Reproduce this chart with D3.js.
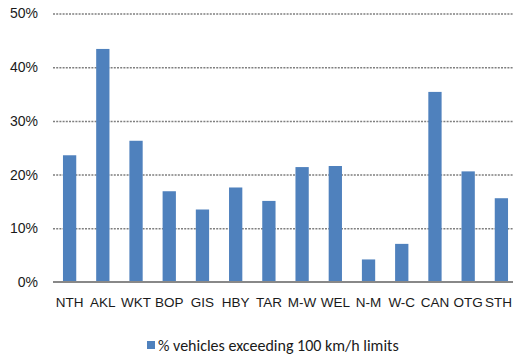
<!DOCTYPE html>
<html>
<head>
<meta charset="utf-8">
<script src="https://cdn.jsdelivr.net/npm/d3@7"></script>
<style>
  html, body { margin: 0; padding: 0; background: #fff; }
  svg { display: block; font-family: Carlito, Calibri, Lato, "Open Sans", sans-serif; }
</style>
</head>
<body>
<div id="chart"></div>
<script>
// Regions and share of vehicles over the 100 km/h limit
const regions = ["NTH", "AKL", "WKT", "BOP", "GIS", "HBY", "TAR", "M-W", "WEL", "N-M", "W-C", "CAN", "OTG", "STH"];
const shareOver = [0.236, 0.434, 0.263, 0.169, 0.135, 0.176, 0.151, 0.214, 0.216, 0.042, 0.071, 0.354, 0.206, 0.156];
const yTicks = [0, 0.1, 0.2, 0.3, 0.4, 0.5];
const seriesName = "% vehicles exceeding 100 km/h limits";

const width = 513, height = 359;
const margin = { top: 13.5, right: -5, bottom: 77, left: 53 };

const svg = d3.select("#chart").append("svg")
  .attr("width", width).attr("height", height);

const x = d3.scaleBand()
  .domain(regions)
  .range([margin.left, width - margin.right])
  .paddingInner(0.6).paddingOuter(0.3);

const y = d3.scaleLinear()
  .domain([0, 0.5])
  .range([height - margin.bottom, margin.top]);

// dotted gridlines + y tick labels
const yAxis = d3.axisLeft(y)
  .tickValues(yTicks)
  .tickFormat(d3.format(".0%"))
  .tickSize(-(width - margin.left))
  .tickPadding(15);

const gy = svg.append("g")
  .attr("transform", `translate(${margin.left},0)`)
  .call(yAxis);
gy.select(".domain").remove();
gy.selectAll(".tick line")
  .attr("stroke", "#7f7f7f")
  .attr("stroke-width", 1.5)
  .attr("stroke-dasharray", "2,1.2")
  .attr("display", d => d === 0 ? "none" : null);
gy.selectAll(".tick text")
  .attr("font-size", 14)
  .attr("fill", "#1a1a1a");

// bars
svg.append("g").selectAll("rect")
  .data(regions.map((r, i) => ({ r, v: shareOver[i] })))
  .join("rect")
  .attr("x", d => x(d.r))
  .attr("width", x.bandwidth())
  .attr("y", d => y(d.v))
  .attr("height", d => y(0) - y(d.v))
  .attr("fill", "#4f81bd");

// category axis
const xAxis = d3.axisBottom(x).tickSize(0).tickPadding(15);
const gx = svg.append("g")
  .attr("transform", `translate(0,${y(0)})`)
  .call(xAxis);
gx.select(".domain")
  .attr("stroke", "#888")
  .attr("stroke-width", 2)
  .attr("d", `M${margin.left},0H${width}`);
gx.selectAll(".tick text")
  .attr("font-size", 13.5)
  .attr("fill", "#1a1a1a");
// keep the last category label inside the frame
gx.selectAll(".tick").filter(d => d === regions[regions.length - 1])
  .select("text").attr("text-anchor", "end").attr("x", width - 1 - x(regions[regions.length - 1]) - x.bandwidth() / 2);

// legend
const legend = svg.append("g").attr("transform", "translate(147,341)");
legend.append("rect")
  .attr("width", 8).attr("height", 8)
  .attr("fill", "#4f81bd");
legend.append("text")
  .attr("x", 11).attr("y", 9.5)
  .attr("font-size", 16)
  .attr("fill", "#1a1a1a")
  .text(seriesName);
</script>
</body>
</html>
